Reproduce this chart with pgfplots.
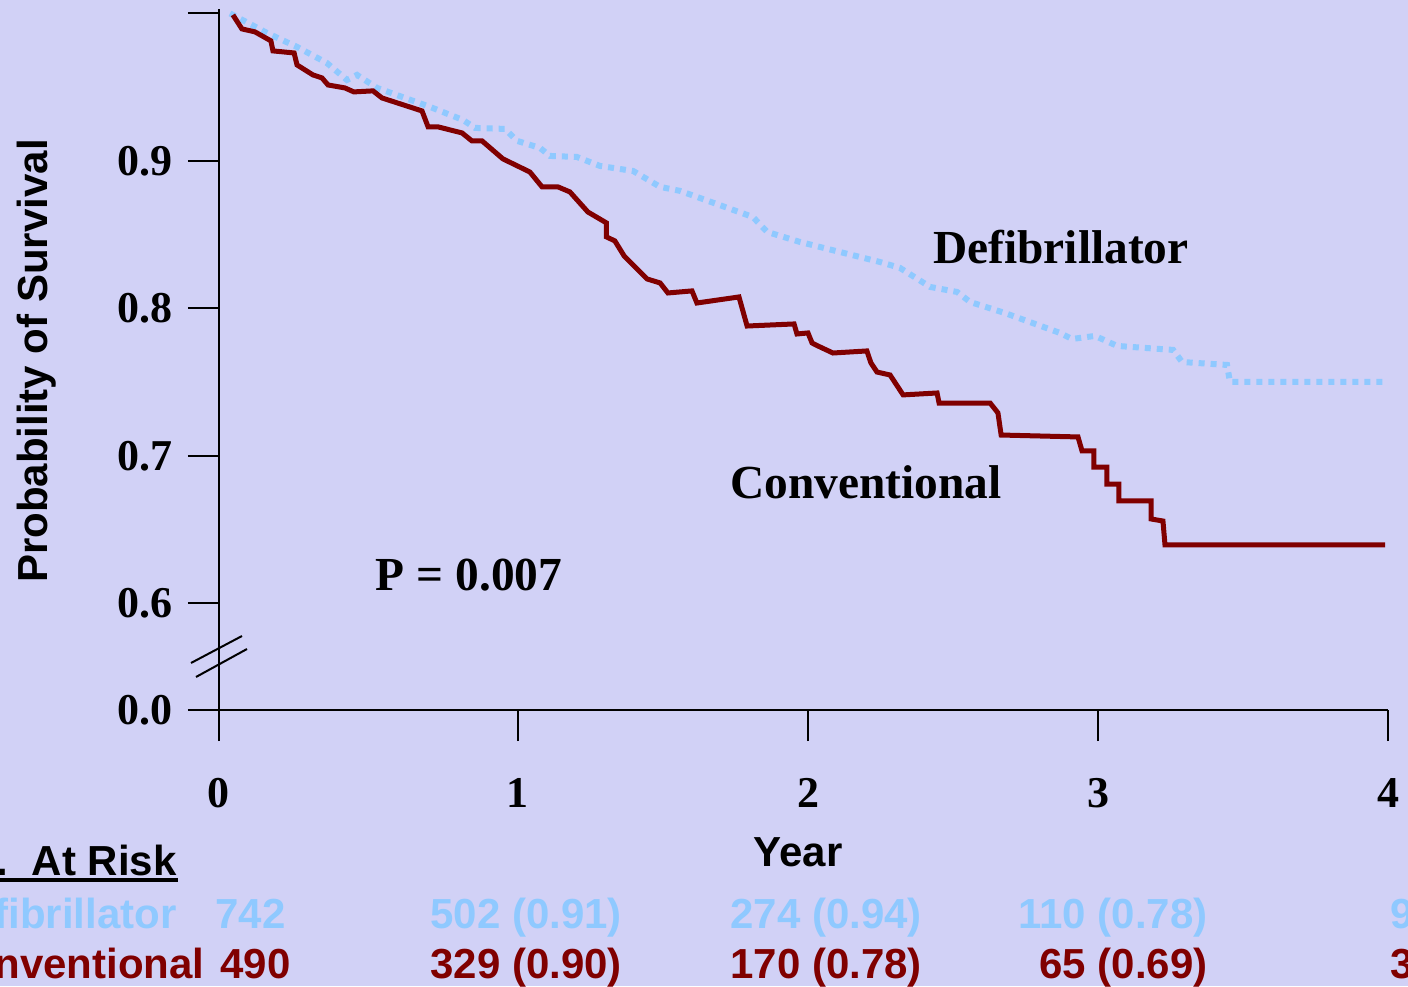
\documentclass[border=0pt]{standalone}
\usepackage{pgfplots}
\pgfplotsset{compat=1.18}
\usepackage{fontspec}
\setmainfont{Liberation Serif}
\setsansfont{Liberation Sans}
\definecolor{bgc}{RGB}{209,209,246}
\definecolor{defblue}{RGB}{143,201,255}
\definecolor{convred}{RGB}{128,0,0}
\newcommand{\serifbig}{\fontsize{23.7}{26}\selectfont\bfseries\rmfamily}
\newcommand{\tickfont}{\fontsize{22}{24}\selectfont\bfseries\rmfamily}
\newcommand{\sansbig}{\fontsize{21}{24}\selectfont\bfseries\sffamily}
\begin{document}
\begin{tikzpicture}
\useasboundingbox (0,0) rectangle (704pt,493pt);
\fill[bgc] (0,0) rectangle (704pt,493pt);
\clip (0,0) rectangle (704pt,493pt);
\begin{axis}[
  at={(109.5pt,138pt)}, anchor=south west,
  scale only axis, width=584.5pt, height=350.5pt,
  xmin=-0.031, xmax=4, ymin=0.5278, ymax=1.003,
  axis x line=bottom, axis y line=left,
  axis line style={-, line width=1pt, black},
  tick align=outside, major tick length=15.5pt,
  tick style={line width=1pt, black},
  xtick={-0.031,1,2,3,4}, xticklabels={0,1,2,3,4},
  ytick={0.5278,0.6,0.7,0.8,0.9,1.0}, yticklabels={0.0,0.6,0.7,0.8,0.9,{}},
  ticklabel style={font=\tickfont},
  xticklabel style={yshift=-15pt},
  yticklabel style={xshift=-4pt},
  clip=false,
]
\addplot[defblue, line width=3pt, line cap=butt, dash pattern=on 3pt off 3pt] coordinates {
(0.007,1.000) (0.134,0.9868) (0.238,0.9773) (0.341,0.9664) (0.410,0.9549) (0.445,0.9583)
(0.514,0.9495) (0.697,0.9366) (0.810,0.9278) (0.852,0.9224) (0.955,0.9217) (0.997,0.9136)
(1.076,0.9088) (1.110,0.9034) (1.203,0.9027) (1.283,0.8966) (1.397,0.8932) (1.490,0.8824)
(1.559,0.8797) (1.810,0.8620) (1.859,0.8519) (1.972,0.8451) (2.248,0.8315) (2.317,0.8275)
(2.421,0.8146) (2.514,0.8112) (2.559,0.8044) (2.679,0.7969) (2.869,0.7834) (2.910,0.7793)
(2.990,0.7814) (3.066,0.7746) (3.259,0.7719) (3.290,0.7637) (3.445,0.7617) (3.455,0.7502)
(3.990,0.7502)
};
\addplot[convred, line width=2.5pt, line join=miter] coordinates {
(0.017,0.999) (0.048,0.9895) (0.093,0.9875) (0.148,0.9814) (0.155,0.9746) (0.228,0.9732)
(0.238,0.9651) (0.293,0.9583) (0.324,0.9563) (0.345,0.9515) (0.403,0.9495) (0.434,0.9468)
(0.500,0.9475) (0.531,0.9427) (0.669,0.9339) (0.690,0.9231) (0.724,0.9231) (0.807,0.9190)
(0.841,0.9136) (0.876,0.9136) (0.948,0.9014) (1.041,0.8925) (1.083,0.8824) (1.138,0.8824)
(1.179,0.8790) (1.241,0.8654) (1.305,0.8580) (1.305,0.8485) (1.334,0.8458) (1.366,0.8356)
(1.445,0.8200) (1.490,0.8173) (1.517,0.8105) (1.600,0.8119) (1.617,0.8037) (1.762,0.8078)
(1.790,0.7881) (1.952,0.7895) (1.962,0.7827) (2.000,0.7834) (2.014,0.7766) (2.034,0.7746)
(2.086,0.7698) (2.203,0.7712) (2.217,0.7631) (2.238,0.7569) (2.283,0.7549) (2.328,0.7414)
(2.445,0.7427) (2.452,0.7359) (2.628,0.7359) (2.655,0.7292) (2.666,0.7142) (2.931,0.7129)
(2.945,0.7034) (2.986,0.7034) (2.986,0.6925) (3.031,0.6925) (3.031,0.6810) (3.072,0.6810)
(3.072,0.6695) (3.183,0.6695) (3.183,0.6573) (3.224,0.6559) (3.231,0.6397) (3.990,0.6397)
};
\end{axis}
\begin{scope}[shift={(0pt,493pt)}, x=0.5pt, y=-0.5pt]
  % axis break marks
  \draw[line width=1pt] (191,663) -- (242,636);
  \draw[line width=1pt] (196,677) -- (247,649);
  % annotations
  \node[font=\serifbig, inner sep=0pt] at (1061,247) {Defibrillator};
  \node[font=\serifbig, inner sep=0pt] at (866,482) {Conventional};
  \node[font=\serifbig, inner sep=0pt] at (469,575) {P = 0.007};
  % axis titles
  \node[font=\sansbig, inner sep=0pt, rotate=90, anchor=base] at (48,361) {Probability of Survival};
  \node[font=\sansbig, inner sep=0pt, anchor=base] at (798,866) {Year};
  % at-risk table
  \node[font=\sansbig, inner sep=0pt, anchor=base east] at (177,875) {No.\ \ At Risk};
  \draw[line width=2pt] (-5,880) -- (178,880);
  \begin{scope}[every node/.style={font=\sansbig, inner sep=0pt, text=defblue}]
    \node[anchor=base east] at (177,928) {Defibrillator};
    \node[anchor=base west] at (215,928) {742};
    \node[anchor=base west] at (430,928) {502 (0.91)};
    \node[anchor=base west] at (730,928) {274 (0.94)};
    \node[anchor=base east] at (1208,928) {110 (0.78)};
    \node[anchor=base west] at (1390,928) {9};
  \end{scope}
  \begin{scope}[every node/.style={font=\sansbig, inner sep=0pt, text=convred}]
    \node[anchor=base east] at (205,978) {Conventional};
    \node[anchor=base west] at (220,978) {490};
    \node[anchor=base west] at (430,978) {329 (0.90)};
    \node[anchor=base west] at (730,978) {170 (0.78)};
    \node[anchor=base east] at (1208,978) {65 (0.69)};
    \node[anchor=base west] at (1390,978) {3};
  \end{scope}
\end{scope}
\end{tikzpicture}
\end{document}
